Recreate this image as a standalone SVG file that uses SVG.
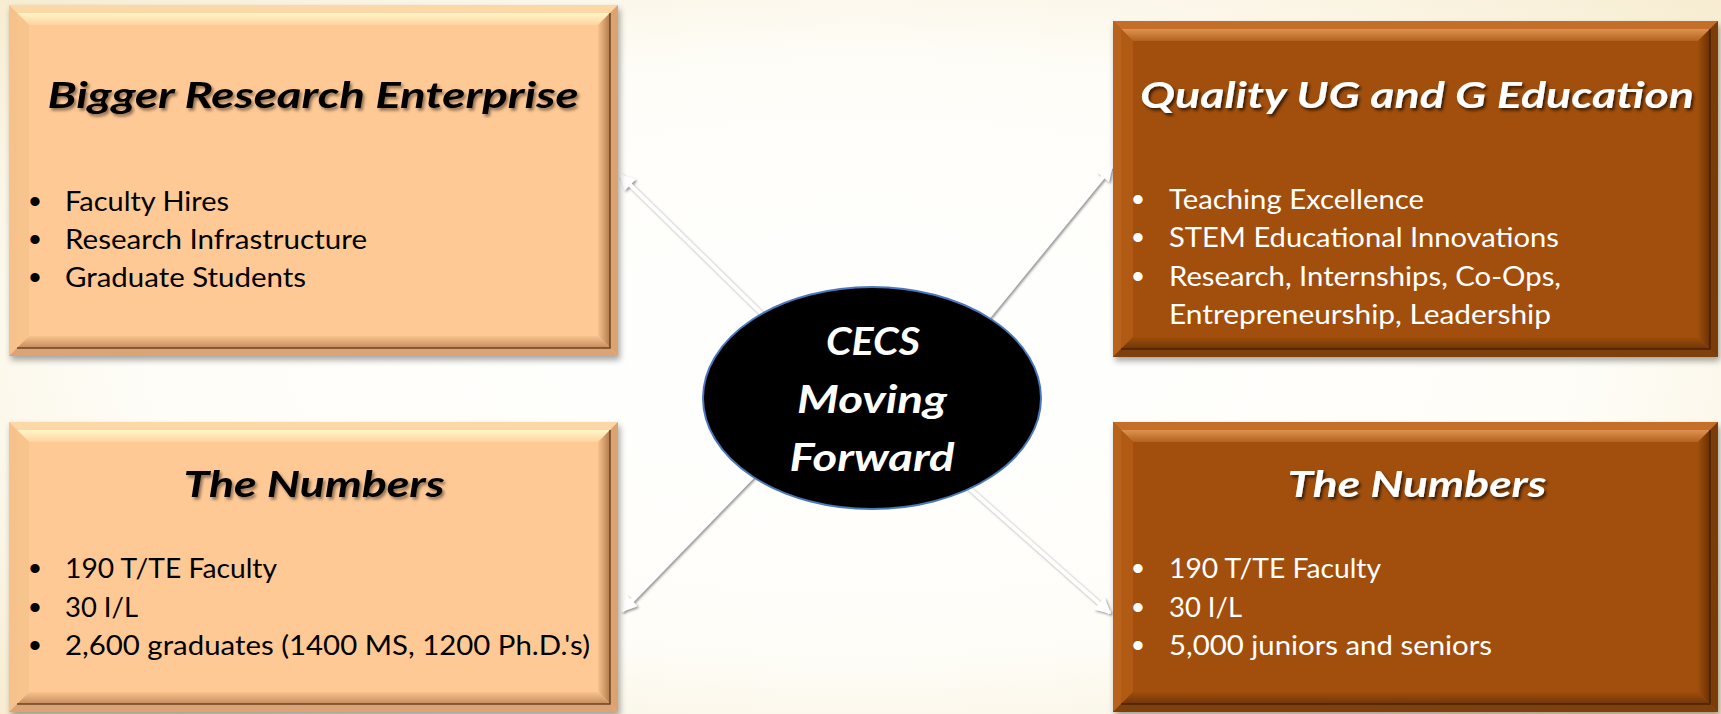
<svg xmlns="http://www.w3.org/2000/svg" width="1721" height="714" viewBox="0 0 1721 714">
  <defs>
    <radialGradient id="bg" cx="50%" cy="50%" r="75%">
      <stop offset="0" stop-color="#FFFFFF"/>
      <stop offset="0.55" stop-color="#FEFDF8"/>
      <stop offset="1" stop-color="#F6EACB"/>
    </radialGradient>
    <!-- peach bevel gradients -->
    <linearGradient id="pTop" x1="0" y1="0" x2="0" y2="1">
      <stop offset="0" stop-color="#FFF6C8"/>
      <stop offset="1" stop-color="#FFD3A0"/>
    </linearGradient>
    <linearGradient id="pRight" x1="0" y1="0" x2="1" y2="0">
      <stop offset="0" stop-color="#F8C28E"/>
      <stop offset="1" stop-color="#B07A4C"/>
    </linearGradient>
    <linearGradient id="pBot" x1="0" y1="0" x2="0" y2="1">
      <stop offset="0" stop-color="#F8C28E"/>
      <stop offset="1" stop-color="#C48C5C"/>
    </linearGradient>
    <!-- brown bevel gradients -->
    <linearGradient id="dTop" x1="0" y1="0" x2="0" y2="1">
      <stop offset="0" stop-color="#DE9250"/>
      <stop offset="1" stop-color="#B4621E"/>
    </linearGradient>
    <linearGradient id="dRight" x1="0" y1="0" x2="1" y2="0">
      <stop offset="0" stop-color="#A04D0C"/>
      <stop offset="1" stop-color="#683006"/>
    </linearGradient>
    <linearGradient id="dBot" x1="0" y1="0" x2="0" y2="1">
      <stop offset="0" stop-color="#A04D0C"/>
      <stop offset="1" stop-color="#6E3608"/>
    </linearGradient>
    <filter id="boxShadow" x="-5%" y="-5%" width="110%" height="115%">
      <feDropShadow dx="2" dy="4" stdDeviation="3" flood-color="#000" flood-opacity="0.35"/>
    </filter>
    <filter id="txtShadowDark" x="-5%" y="-20%" width="110%" height="150%">
      <feDropShadow dx="2" dy="2.5" stdDeviation="1.5" flood-color="#000" flood-opacity="0.45"/>
    </filter>
    <filter id="txtShadowLight" x="-5%" y="-20%" width="110%" height="150%">
      <feDropShadow dx="2" dy="2.5" stdDeviation="1.5" flood-color="#000" flood-opacity="0.65"/>
    </filter>
    <filter id="lineShadow" x="-20%" y="-20%" width="140%" height="140%">
      <feDropShadow dx="1.5" dy="1.5" stdDeviation="1.2" flood-color="#666" flood-opacity="0.7"/>
    </filter>
    <marker id="head" viewBox="0 0 10 10" refX="9" refY="5" markerWidth="4.5" markerHeight="4" orient="auto" markerUnits="strokeWidth">
      <path d="M0,0 L10,5 L0,10 z" fill="#FFFFFF"/>
    </marker>
    <style>
      .base { filter: url(#boxShadow); }
      .pc .base { fill: #FFC995; }
      .pc .ot { fill: #FCD8A6; }
      .pc .ol { fill: #F7C18C; }
      .pc .or { fill: #DCA270; }
      .pc .ob { fill: #DCA474; }
      .pc .it { fill: url(#pTop); }
      .pc .il { fill: #F8C48E; }
      .pc .ir { fill: url(#pRight); }
      .pc .ib { fill: url(#pBot); }
      .pc .edge { stroke: #6B4424; }
      .dk .base { fill: #A24F0C; }
      .dk .ot { fill: #C46E2A; }
      .dk .ol { fill: #B8621C; }
      .dk .or { fill: #7C3C08; }
      .dk .ob { fill: #80400C; }
      .dk .it { fill: url(#dTop); }
      .dk .il { fill: #B05A14; }
      .dk .ir { fill: url(#dRight); }
      .dk .ib { fill: url(#dBot); }
      .dk .edge { stroke: #4A2204; }
      .edge { fill: none; stroke-width: 1.5; }
      .title { font-family: Lato, "Liberation Sans", sans-serif; font-weight: bold; font-style: italic; font-size: 37px; text-anchor: middle; }
      .item { font-family: Lato, "Liberation Sans", sans-serif; font-size: 26px; }
      .dot { font-family: "Liberation Sans", sans-serif; font-size: 34px; text-anchor: middle; }
      .pc text { fill: #000000; }
      .dk text { fill: #FFFFFF; }
      .pc .title { filter: url(#txtShadowDark); }
      .dk .title { filter: url(#txtShadowLight); }
      .link { stroke: #FFFFFF; stroke-width: 4; fill: none; marker-end: url(#head); }
      .hubtxt { font-family: Lato, "Liberation Sans", sans-serif; font-weight: bold; font-style: italic; font-size: 39px; fill: #FFFFFF; text-anchor: middle; }
    </style>
  </defs>

  <!-- page background -->
  <rect x="0" y="0" width="1721" height="714" fill="url(#bg)"/>

  <!-- connectors from the hub to the four panels -->
  <g id="connectors" filter="url(#lineShadow)">
    <line class="link" x1="762" y1="314" x2="620" y2="175"/>
    <line class="link" x1="986" y1="320" x2="1112" y2="166"/>
    <line class="link" x1="756" y1="473" x2="622" y2="611"/>
    <line class="link" x1="962" y1="482" x2="1110" y2="613"/>
  </g>

  <!-- top-left panel -->
  <g id="research" class="pc">
    <rect class="base" x="9" y="5" width="609" height="351"/>
    <polygon class="ot" points="9,5 618,5 610,13 17,13"/>
    <polygon class="ol" points="9,5 17,13 17,348 9,356"/>
    <polygon class="or" points="618,5 618,356 610,348 610,13"/>
    <polygon class="ob" points="9,356 17,348 610,348 618,356"/>
    <polygon class="it" points="17,13 610,13 598,25 29,25"/>
    <polygon class="il" points="17,13 29,25 29,336 17,348"/>
    <polygon class="ir" points="610,13 610,348 598,336 598,25"/>
    <polygon class="ib" points="17,348 29,336 598,336 610,348"/>
    <polyline class="edge" points="610,13 610,348 17,348"/>
    <text class="title" x="313" y="108" textLength="531" lengthAdjust="spacingAndGlyphs">Bigger Research Enterprise</text>
    <text class="dot" x="35" y="213">•</text>
    <text class="item" x="65" y="211" textLength="164" lengthAdjust="spacingAndGlyphs">Faculty Hires</text>
    <text class="dot" x="35" y="251">•</text>
    <text class="item" x="65" y="249" textLength="302" lengthAdjust="spacingAndGlyphs">Research Infrastructure</text>
    <text class="dot" x="35" y="289">•</text>
    <text class="item" x="65" y="287" textLength="241" lengthAdjust="spacingAndGlyphs">Graduate Students</text>
  </g>

  <!-- top-right panel -->
  <g id="education" class="dk">
    <rect class="base" x="1113" y="21" width="605" height="336"/>
    <polygon class="ot" points="1113,21 1718,21 1710,29 1121,29"/>
    <polygon class="ol" points="1113,21 1121,29 1121,349 1113,357"/>
    <polygon class="or" points="1718,21 1718,357 1710,349 1710,29"/>
    <polygon class="ob" points="1113,357 1121,349 1710,349 1718,357"/>
    <polygon class="it" points="1121,29 1710,29 1698,41 1133,41"/>
    <polygon class="il" points="1121,29 1133,41 1133,337 1121,349"/>
    <polygon class="ir" points="1710,29 1710,349 1698,337 1698,41"/>
    <polygon class="ib" points="1121,349 1133,337 1698,337 1710,349"/>
    <polyline class="edge" points="1710,29 1710,349 1121,349"/>
    <text class="title" x="1417" y="108" textLength="554" lengthAdjust="spacingAndGlyphs">Quality UG and G Education</text>
    <text class="dot" x="1138" y="211">•</text>
    <text class="item" x="1169" y="209" textLength="255" lengthAdjust="spacingAndGlyphs">Teaching Excellence</text>
    <text class="dot" x="1138" y="249">•</text>
    <text class="item" x="1169" y="247" textLength="390" lengthAdjust="spacingAndGlyphs">STEM Educational Innovations</text>
    <text class="dot" x="1138" y="288">•</text>
    <text class="item" x="1169" y="286" textLength="392" lengthAdjust="spacingAndGlyphs">Research, Internships, Co-Ops,</text>
    <text class="item" x="1169" y="324" textLength="382" lengthAdjust="spacingAndGlyphs">Entrepreneurship, Leadership</text>
  </g>

  <!-- bottom-left panel -->
  <g id="numbers-graduate" class="pc">
    <rect class="base" x="9" y="422" width="609" height="290"/>
    <polygon class="ot" points="9,422 618,422 610,430 17,430"/>
    <polygon class="ol" points="9,422 17,430 17,704 9,712"/>
    <polygon class="or" points="618,422 618,712 610,704 610,430"/>
    <polygon class="ob" points="9,712 17,704 610,704 618,712"/>
    <polygon class="it" points="17,430 610,430 598,442 29,442"/>
    <polygon class="il" points="17,430 29,442 29,692 17,704"/>
    <polygon class="ir" points="610,430 610,704 598,692 598,442"/>
    <polygon class="ib" points="17,704 29,692 598,692 610,704"/>
    <polyline class="edge" points="610,430 610,704 17,704"/>
    <text class="title" x="314" y="497" textLength="261" lengthAdjust="spacingAndGlyphs">The Numbers</text>
    <text class="dot" x="35" y="580">•</text>
    <text class="item" x="65" y="578" textLength="212" lengthAdjust="spacingAndGlyphs">190 T/TE Faculty</text>
    <text class="dot" x="35" y="619">•</text>
    <text class="item" x="65" y="617" textLength="73" lengthAdjust="spacingAndGlyphs">30 I/L</text>
    <text class="dot" x="35" y="657">•</text>
    <text class="item" x="65" y="655" textLength="525" lengthAdjust="spacingAndGlyphs">2,600 graduates (1400 MS, 1200 Ph.D.'s)</text>
  </g>

  <!-- bottom-right panel -->
  <g id="numbers-undergrad" class="dk">
    <rect class="base" x="1113" y="422" width="605" height="290"/>
    <polygon class="ot" points="1113,422 1718,422 1710,430 1121,430"/>
    <polygon class="ol" points="1113,422 1121,430 1121,704 1113,712"/>
    <polygon class="or" points="1718,422 1718,712 1710,704 1710,430"/>
    <polygon class="ob" points="1113,712 1121,704 1710,704 1718,712"/>
    <polygon class="it" points="1121,430 1710,430 1698,442 1133,442"/>
    <polygon class="il" points="1121,430 1133,442 1133,692 1121,704"/>
    <polygon class="ir" points="1710,430 1710,704 1698,692 1698,442"/>
    <polygon class="ib" points="1121,704 1133,692 1698,692 1710,704"/>
    <polyline class="edge" points="1710,430 1710,704 1121,704"/>
    <text class="title" x="1417" y="497" textLength="259" lengthAdjust="spacingAndGlyphs">The Numbers</text>
    <text class="dot" x="1138" y="580">•</text>
    <text class="item" x="1169" y="578" textLength="212" lengthAdjust="spacingAndGlyphs">190 T/TE Faculty</text>
    <text class="dot" x="1138" y="619">•</text>
    <text class="item" x="1169" y="617" textLength="73" lengthAdjust="spacingAndGlyphs">30 I/L</text>
    <text class="dot" x="1138" y="657">•</text>
    <text class="item" x="1169" y="655" textLength="323" lengthAdjust="spacingAndGlyphs">5,000 juniors and seniors</text>
  </g>

  <!-- central hub -->
  <g id="hub">
    <ellipse cx="872" cy="398" rx="169" ry="111" fill="#000000" stroke="#4A78BE" stroke-width="2"/>
    <text class="hubtxt" x="873" y="355" textLength="94" lengthAdjust="spacingAndGlyphs">CECS</text>
    <text class="hubtxt" x="872" y="413" textLength="150" lengthAdjust="spacingAndGlyphs">Moving</text>
    <text class="hubtxt" x="872" y="471" textLength="165" lengthAdjust="spacingAndGlyphs">Forward</text>
  </g>
</svg>
